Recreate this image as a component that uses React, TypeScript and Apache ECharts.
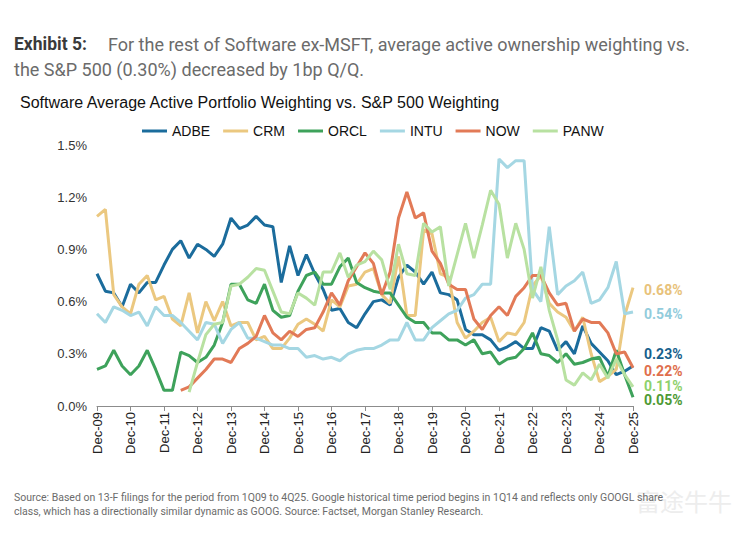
import React, { useEffect, useRef } from "react";
import * as echarts from "echarts";

// Quarter-end categories Dec-09 .. Dec-25
const categories: string[] = (() => {
  const out: string[] = ["Dec-09"];
  for (let y = 10; y <= 25; y++) {
    const yy = String(y).padStart(2, "0");
    out.push(`Mar-${yy}`, `Jun-${yy}`, `Sep-${yy}`, `Dec-${yy}`);
  }
  return out;
})();

const yTicks = [0, 0.3, 0.6, 0.9, 1.2, 1.5];

const ADBE = [0.76, 0.66, 0.65, 0.57, 0.70, 0.65, 0.71, 0.71, 0.81, 0.90, 0.95, 0.85, 0.93, 0.90, 0.86, 0.93, 1.08, 1.02, 1.04, 1.09, 1.04, 1.03, 0.71, 0.92, 0.75, 0.87, 0.76, 0.67, 0.55, 0.56, 0.48, 0.45, 0.53, 0.60, 0.61, 0.58, 0.74, 0.81, 0.77, 0.70, 0.77, 0.65, 0.64, 0.61, 0.44, 0.41, 0.41, 0.38, 0.32, 0.34, 0.37, 0.33, 0.33, 0.45, 0.43, 0.32, 0.37, 0.30, 0.46, 0.36, 0.31, 0.26, 0.18, 0.20, 0.23];
const CRM = [1.09, 1.13, 0.64, 0.57, 0.53, 0.70, 0.75, 0.61, 0.63, 0.50, 0.46, 0.65, 0.42, 0.60, 0.49, 0.60, 0.46, 0.48, 0.48, 0.38, 0.40, 0.33, 0.33, 0.39, 0.47, 0.50, 0.47, 0.43, 0.61, 0.57, 0.69, 0.70, 0.77, 0.79, 0.64, 0.59, 0.86, 0.52, 0.52, 1.01, 0.99, 0.76, 0.74, 0.48, 0.39, 0.43, 0.48, 0.51, 0.37, 0.42, 0.41, 0.48, 0.69, 0.75, 0.59, 0.54, 0.51, 0.43, 0.51, 0.30, 0.14, 0.17, 0.21, 0.52, 0.68];
const ORCL = [0.21, 0.23, 0.32, 0.23, 0.18, 0.23, 0.32, 0.21, 0.09, 0.09, 0.31, 0.29, 0.25, 0.28, 0.35, 0.48, 0.70, 0.70, 0.61, 0.59, 0.70, 0.55, 0.51, 0.52, 0.66, 0.75, 0.77, 0.70, 0.70, 0.80, 0.85, 0.71, 0.68, 0.66, 0.65, 0.65, 0.58, 0.51, 0.48, 0.48, 0.42, 0.42, 0.38, 0.38, 0.35, 0.38, 0.30, 0.31, 0.24, 0.27, 0.28, 0.33, 0.42, 0.30, 0.29, 0.25, 0.30, 0.24, 0.25, 0.27, 0.28, 0.17, 0.32, 0.18, 0.05];
const INTU = [0.53, 0.48, 0.57, 0.55, 0.52, 0.54, 0.46, 0.57, 0.52, 0.52, 0.48, 0.43, 0.38, 0.48, 0.47, 0.36, 0.44, 0.48, 0.39, 0.39, 0.37, 0.35, 0.35, 0.33, 0.33, 0.28, 0.29, 0.27, 0.28, 0.26, 0.30, 0.32, 0.33, 0.33, 0.35, 0.38, 0.38, 0.48, 0.38, 0.38, 0.45, 0.49, 0.53, 0.55, 0.62, 0.64, 0.70, 0.70, 1.42, 1.37, 1.41, 1.41, 0.67, 0.60, 1.03, 0.64, 0.69, 0.72, 0.77, 0.59, 0.61, 0.68, 0.83, 0.53, 0.54];
const NOW = [null, null, null, null, null, null, null, null, null, null, 0.09, 0.11, 0.16, 0.21, 0.27, 0.27, 0.25, 0.33, 0.36, 0.40, 0.52, 0.42, 0.38, 0.43, 0.40, 0.44, 0.45, 0.54, 0.65, 0.58, 0.72, 0.80, 0.88, 0.82, 0.64, 0.77, 1.08, 1.23, 1.08, 1.11, 0.89, 0.82, 0.70, 0.67, 0.67, 0.50, 0.44, 0.52, 0.57, 0.52, 0.63, 0.68, 0.75, 0.75, 0.65, 0.58, 0.59, 0.43, 0.50, 0.48, 0.48, 0.42, 0.30, 0.31, 0.22];
const PANW = [null, null, null, null, null, null, null, null, null, null, null, 0.08, 0.25, 0.41, 0.47, 0.48, 0.69, 0.70, 0.74, 0.79, 0.78, 0.66, 0.54, 0.53, 0.65, 0.62, 0.58, 0.77, 0.77, 0.88, 0.74, 0.81, 0.83, 0.89, 0.84, 0.67, 0.93, 0.76, 0.75, 1.05, 1.00, 1.03, 0.69, 0.87, 1.05, 0.85, 1.04, 1.24, 1.16, 0.85, 1.05, 0.90, 0.62, 0.80, 0.55, 0.38, 0.15, 0.12, 0.19, 0.15, 0.24, 0.16, 0.27, 0.18, 0.11];

const seriesDefs = [
  { name: "ADBE", data: ADBE, color: "#1B6C9C", label: "#175F8C", offset: -12 },
  { name: "CRM", data: CRM, color: "#EBC880", label: "#E8C27A", offset: 2 },
  { name: "ORCL", data: ORCL, color: "#3EA25B", label: "#4E9A34", offset: 3 },
  { name: "INTU", data: INTU, color: "#A5D7E3", label: "#93CCDC", offset: 2 },
  { name: "NOW", data: NOW, color: "#E27A57", label: "#E06E4C", offset: 3 },
  { name: "PANW", data: PANW, color: "#B8E1A1", label: "#8ED16B", offset: -1 },
];

export default function App() {
  const ref = useRef<HTMLDivElement>(null);
  useEffect(() => {
    document.body.style.margin = "0";
    if (!ref.current) return;
    const chart = echarts.init(ref.current, undefined, { renderer: "svg" });
    chart.setOption({
      animation: false,
      backgroundColor: "#ffffff",
      textStyle: { fontFamily: "Liberation Sans, Arial, sans-serif" },
      graphic: [
        {
          type: "text", x: 14, y: 44,
          style: { text: "Exhibit 5:", font: "bold 17.5px Roboto", fill: "#3a3a3a", verticalAlign: "middle" },
        },
        {
          type: "text", x: 108, y: 44,
          style: { text: "For the rest of Software ex-MSFT, average active ownership weighting vs.", font: "18px Roboto", fill: "#6b6b6b", verticalAlign: "middle" },
        },
        {
          type: "text", x: 14, y: 69,
          style: { text: "the S&P 500 (0.30%) decreased by 1bp Q/Q.", font: "18px Roboto", fill: "#6b6b6b", verticalAlign: "middle" },
        },
        {
          type: "text", x: 20, y: 102,
          style: { text: "Software Average Active Portfolio Weighting vs. S&P 500 Weighting", font: "16px Liberation Sans", fill: "#111111", verticalAlign: "middle" },
        },
        {
          type: "text", x: 636, y: 500,
          style: { text: "富途牛牛", font: "24px Noto Sans CJK SC", fill: "#ededed", verticalAlign: "middle" },
        },
        {
          type: "text", x: 14, y: 497,
          style: { text: "Source: Based on 13-F filings for the period from 1Q09 to 4Q25. Google historical time period begins in 1Q14 and reflects only GOOGL share", font: "10.5px Roboto", fill: "#6b6b6b", verticalAlign: "middle" },
        },
        {
          type: "text", x: 14, y: 511,
          style: { text: "class, which has a directionally similar dynamic as GOOG. Source: Factset, Morgan Stanley Research.", font: "10.5px Roboto", fill: "#6b6b6b", verticalAlign: "middle" },
        },
      ],
      legend: {
        left: 137,
        top: 119,
        icon: "rect",
        itemWidth: 25,
        itemHeight: 3,
        itemGap: 13,
        textStyle: { fontSize: 14, color: "#111", fontFamily: "Liberation Sans" },
        data: seriesDefs.map((s) => s.name),
      },
      grid: { left: 97, right: 114, top: 145, bottom: 128, containLabel: false },
      xAxis: {
        type: "category",
        data: categories,
        boundaryGap: false,
        axisLine: { lineStyle: { color: "#8c8c8c", width: 1 } },
        axisTick: { interval: 3, length: 5, lineStyle: { color: "#8c8c8c" } },
        axisLabel: { interval: 3, rotate: 90, margin: 6, fontSize: 13, color: "#222", fontFamily: "Liberation Sans" },
        splitLine: { show: false },
      },
      yAxis: {
        type: "value",
        min: yTicks[0],
        max: yTicks[yTicks.length - 1],
        interval: 0.3,
        axisLine: { show: false },
        axisTick: { show: false },
        splitLine: { show: false },
        axisLabel: {
          margin: 10,
          fontSize: 13,
          color: "#333",
          fontFamily: "Liberation Sans",
          formatter: (v: number) => v.toFixed(1) + "%",
        },
      },
      series: seriesDefs.map((s) => ({
        name: s.name,
        type: "line",
        data: s.data,
        symbol: "none",
        connectNulls: false,
        color: s.color,
        lineStyle: { width: 3, color: s.color },
        endLabel: {
          show: true,
          distance: 11,
          offset: [0, s.offset],
          formatter: (p: any) => Number(p.value).toFixed(2) + "%",
          color: s.label,
          fontWeight: "bold",
          fontSize: 14,
          lineHeight: 14,
          fontFamily: "Roboto",
        },
      })),
    });
    return () => chart.dispose();
  }, []);
  return <div ref={ref} style={{ width: 747, height: 534 }} />;
}
